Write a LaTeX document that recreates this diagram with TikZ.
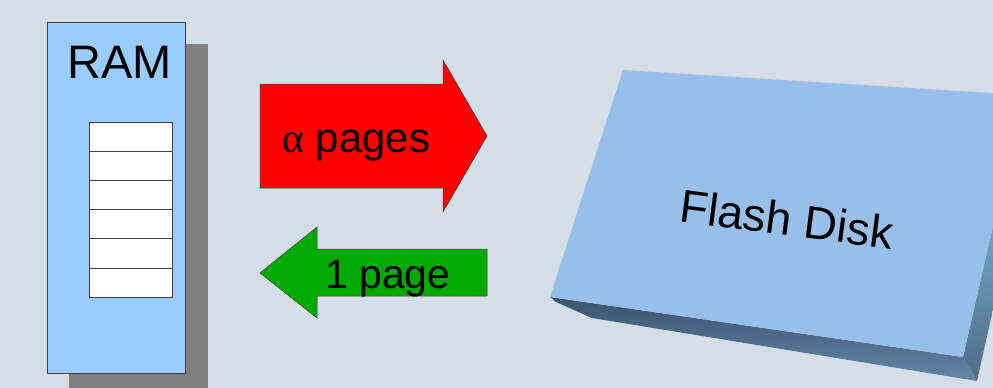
\documentclass[tikz,border=0pt]{standalone}
\usepackage{fontspec}
\setmainfont{Liberation Sans}
\newfontfamily\greekfont{Liberation Serif}
\begin{document}
\begin{tikzpicture}[x=1pt,y=-1pt,
  lbl/.style={inner sep=0pt, anchor=base west, font=\fontsize{42}{44}\selectfont},
  outline/.style={draw=black!75, line width=0.7pt}]
\definecolor{bg}{HTML}{D5DEE6}
\definecolor{ramblue}{HTML}{99CCFF}
\definecolor{diskTop}{HTML}{97BFE9}
\definecolor{diskDark}{HTML}{3B536E}
\definecolor{diskMid}{HTML}{6485A8}
\definecolor{arrowRed}{HTML}{FF0000}
\definecolor{arrowGreen}{HTML}{00AA00}
% canvas
\fill[bg] (0,0) rectangle (993,388);
\useasboundingbox (0,0) rectangle (993,388);

% RAM module with its drop shadow
\fill[black!50] (69,44) rectangle (208,388);
\draw[outline, fill=ramblue] (47,22) rectangle (185,373);
\node[inner sep=0pt, anchor=base east, font=\fontsize{47}{49}\selectfont] (ram) at (172,78) {RAM};
\foreach \i in {0,...,5} {
  \draw[outline, fill=white] (89,{122+29.17*\i}) rectangle (172,{122+29.17*(\i+1)});
}

% outgoing arrow: alpha pages
\draw[outline, fill=arrowRed, line width=0.5pt]
  (260,84) -- (443,84) -- (443,60) -- (487,136) -- (443,212) -- (443,188) -- (260,188) -- cycle;
\node[lbl] (out) at (282,152) {{\greekfont α} pages};

% incoming arrow: 1 page
\draw[outline, fill=arrowGreen, line width=0.5pt]
  (487,249) -- (317,249) -- (317,227) -- (260,273) -- (317,318) -- (317,296) -- (487,296) -- cycle;
\node[lbl, font=\fontsize{41}{43}\selectfont] (in) at (325,288) {1 page};

% flash disk slab: right side, front side, then top face
\shade[top color=diskTop!70!cyan!80!white, bottom color=diskMid!80!black]
  (963,357) -- (977,381) -- (1040,100) -- (1023,95) -- cycle;
\shade[top color=diskDark, bottom color=diskMid]
  (550,297) -- (963,357) -- (977,381) -- (592,318) -- (556,302) -- cycle;
\fill[diskTop] (623,70) -- (1023,95) -- (963,357) -- (550,297) -- cycle;
\node[inner sep=0pt, rotate=-7.4, font=\fontsize{46}{48}\selectfont] (disk) at (787,219) {Flash Disk};
\end{tikzpicture}
\end{document}
